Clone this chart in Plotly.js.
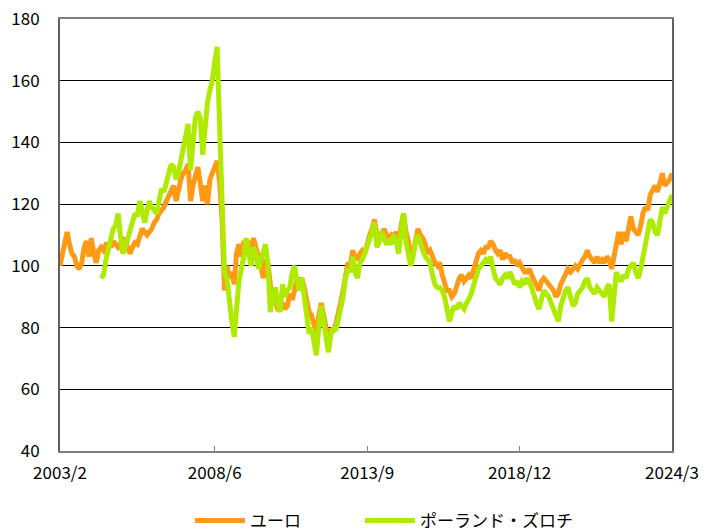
<!DOCTYPE html>
<html>
<head>
<meta charset="utf-8">
<script src="https://cdn.plot.ly/plotly-3.0.1.min.js"></script>
<style>
html,body{margin:0;padding:0;background:#fff;}
#chart{width:720px;height:532px;}
</style>
</head>
<body>
<div id="chart"></div>
<script>
// Monthly series, starting 2003/2 (index, 2003/2 = 100)
const startYear = 2003;
const startMonth = 2;

const euroName = 'ユーロ';
const plnName = 'ポーランド・ズロチ';

const euroValues = [
100,103,108,111,107,104,103,100,99,101,
106,108,103,109,104,101,105,106,105,107,
107,106,108,107,106,107,109,108,106,104,
106,107.5,107,109,112,111,110,111,112,114,
115,117,118,119,121,123,125,126,121,125,
128,130,131,133,121,126,129,132,127,121,
126,120,128,130,131,134,127,115,92,100,
96,98,94,104,107,103,108,106,107,105,
109,105,103,100,96,102,101,94,88,90,
86,86,88,86,87,91,89,92,96,95,
96,93,88,85,84,81,78,84,88,84,
80,76,79,79,81,84,88,92,97,101,
100,105,103,102,104,105,104,108,110,112,
115,110,108,110,112,110,109,110,109,111,
108,113,117,111,108,103,104,108,112,110,
109,107,104,105,103,101,100,101,97,95,
92,92,90,91,94,96,97,95,96,97,
96,99,101,104,105,104,106,106,108,107,
105,104,105,102,104,103,103,101,102,100,
101,99,98,98,99,97,95,94,92,95,
96,95,94,93,92,90,91,94,96,98,
99,98,99,100,99,101,102,103,105,103,
102,101,103,101,102,101,103,102,99,103,
108,111,107,111,108,112,116,112,111,110,
113,117,119,118,123,125,126,124,127,130,
126,127,128,130
];

const plnValues = [
null,null,null,null,null,null,null,null,null,null,
null,null,null,null,null,null,null,96,97,102,
105,108,112,113,117,110,104,106,109,111,
114,117,116,121,118,114,118,121,119,118,
117,121,125,124,127,130,133,132,128,130,
134,138,142,146,131,141,148,150,148,136,
146,153,157,160,166,171,145,122,98,96,
88,82,77,88,95,99,103,109,105,100,
106,104,99,102,104,107,100,85,90,93,
88,85,94,90,92,93,98,100,95,92,
96,89,84,78,80,74,71,80,87,82,
77,72,78,80,79,82,86,90,96,99,
98,103,98,96,101,102,104,106,108,111,
114,106,108,111,109,107,108,107,110,108,
104,112,117,108,104,100,103,108,110,107,
105,103,102,101,97,94,93,93,92,90,
86,82,85,87,86,88,87,86,88,89,
91,94,97,99,100,101,102,101,103,99,
96,95,94,96,97,96,98,96,94,95,
93,95,94,96,95,93,90,88,86,90,
92,91,90,88,86,84,82,87,90,92,
93,89,87,88,91,92,93,95,96,93,
92,91,93,92,91,90,93,94,82,92,
98,96,95,97,96,99,100,101,98,96,
99,103,106,111,115,114,111,110,115,119,
117,119,121,123
];

const tickVals = ['2003-02-01','2008-06-01','2013-09-01','2018-12-01','2024-03-01'];
const tickText = ['2003/2','2008/6','2013/9','2018/12','2024/3'];

function monthDates(n){
  const out = [];
  for (let i = 0; i < n; i++){
    const t = (startMonth - 1) + i;
    const y = startYear + Math.floor(t / 12);
    const m = (t % 12) + 1;
    out.push(y + '-' + String(m).padStart(2,'0') + '-01');
  }
  return out;
}
const dates = monthDates(euroValues.length);

const font = '"Noto Sans CJK JP", "Noto Sans", sans-serif';

const traces = [
  {x: dates, y: euroValues, name: euroName, type: 'scatter', mode: 'lines',
   line: {color: '#FF9A17', width: 5}, legend: 'legend'},
  {x: dates, y: plnValues, name: plnName, type: 'scatter', mode: 'lines',
   line: {color: '#AEEB00', width: 5}, connectgaps: false, legend: 'legend2'}
];

const legendCommon = {orientation: 'h', xanchor: 'left', y: -0.162, yanchor: 'middle',
  font: {family: font, size: 17, color: '#000'}, itemwidth: 50, bgcolor: 'rgba(0,0,0,0)'};

const layout = {
  width: 720, height: 532,
  margin: {l: 60, r: 48, t: 19, b: 81, autoexpand: false},
  paper_bgcolor: '#fff', plot_bgcolor: '#fff',
  font: {family: font, size: 17, color: '#000'},
  showlegend: true,
  legend: Object.assign({}, legendCommon, {x: 0.2124}),
  legend2: Object.assign({}, legendCommon, {x: 0.49}),
  xaxis: {
    type: 'date', range: ['2003-02-01','2024-03-01'],
    tickmode: 'array', tickvals: tickVals, ticktext: tickText,
    ticks: 'inside', ticklen: 5, tickcolor: '#808080', tickwidth: 1,
    showgrid: false, zeroline: false,
    showline: true, linecolor: '#808080', linewidth: 2, mirror: true,
    ticklabelstandoff: 6,
    tickfont: {family: font, size: 17, color: '#000'}
  },
  yaxis: {
    range: [40, 180], dtick: 20, tick0: 40,
    showgrid: true, gridcolor: '#000', gridwidth: 1,
    zeroline: false, ticks: '',
    showline: true, linecolor: '#606060', linewidth: 2, mirror: true,
    ticklabelstandoff: 15,
    tickfont: {family: font, size: 17, color: '#000'}
  }
};

Plotly.newPlot('chart', traces, layout, {displayModeBar: false, staticPlot: true});
</script>
</body>
</html>
